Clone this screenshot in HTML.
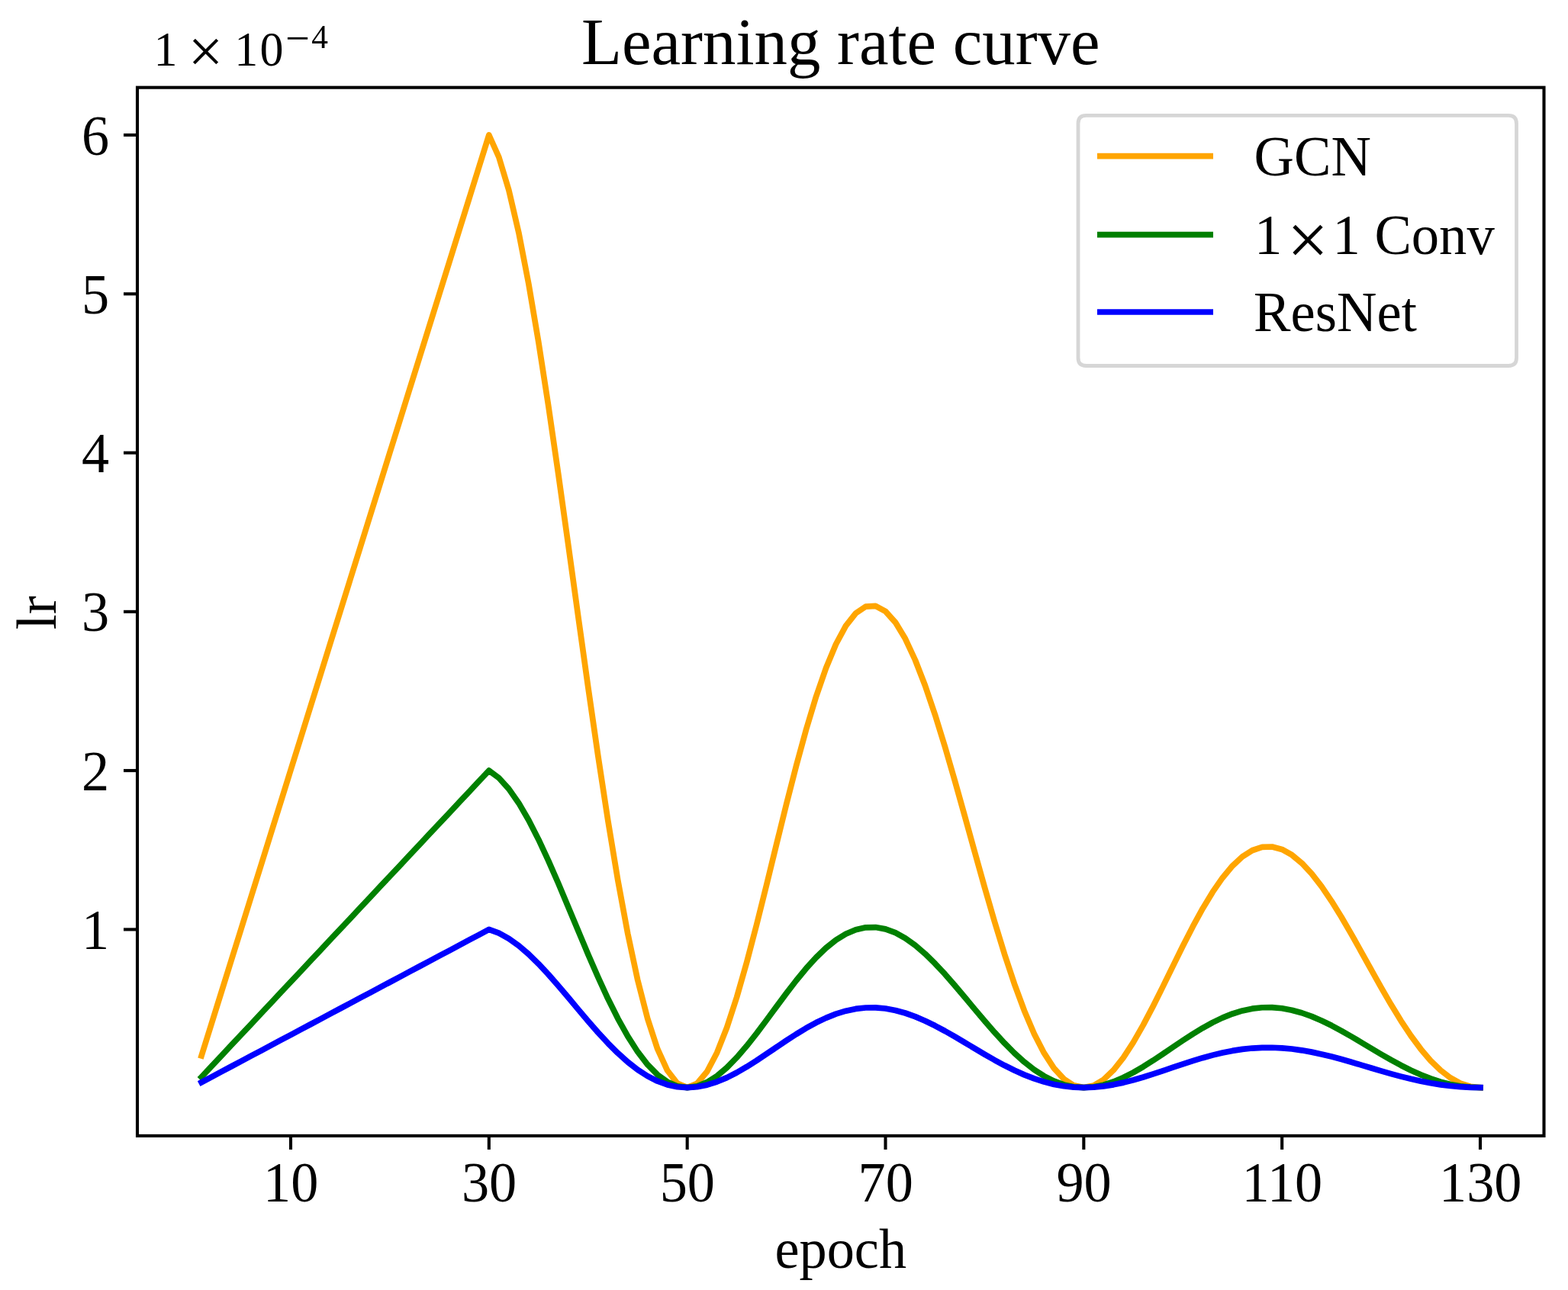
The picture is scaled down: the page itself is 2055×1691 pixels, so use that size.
<!DOCTYPE html>
<html lang="en"><head><meta charset="utf-8"><title>Learning rate curve</title>
<style>
html,body{margin:0;padding:0;background:#fff;}
body{width:2055px;height:1691px;overflow:hidden;}
svg{display:block;}
text{font-family:"Liberation Serif", "DejaVu Serif", serif;fill:#000;}
</style></head><body>
<svg width="2055" height="1691" viewBox="0 0 2055 1691">
<rect x="0" y="0" width="2055" height="1691" fill="#ffffff"/>
<defs><clipPath id="ax"><rect x="180.00" y="114.70" width="1843.50" height="1374.20"/></clipPath></defs>
<g clip-path="url(#ax)" fill="none" stroke-width="7.70" stroke-linecap="square" stroke-linejoin="round">
<path d="M264.07 1384.02 L277.07 1342.40 L290.06 1300.77 L303.05 1259.15 L316.04 1217.53 L329.03 1175.91 L342.02 1134.29 L355.02 1092.67 L368.01 1051.05 L381.00 1009.43 L393.99 967.80 L406.98 926.18 L419.98 884.56 L432.97 842.94 L445.96 801.32 L458.95 759.70 L471.94 718.08 L484.93 676.46 L497.93 634.83 L510.92 593.21 L523.91 551.59 L536.90 509.97 L549.89 468.35 L562.88 426.73 L575.88 385.11 L588.87 343.49 L601.86 301.86 L614.85 260.24 L627.84 218.62 L640.83 177.00 L653.83 206.01 L666.82 249.05 L679.81 304.85 L692.80 371.87 L705.79 448.31 L718.78 532.24 L731.78 621.58 L744.77 714.19 L757.76 807.91 L770.75 900.65 L783.74 990.39 L796.73 1075.24 L809.73 1153.51 L822.72 1223.72 L835.71 1284.64 L848.70 1335.28 L861.69 1374.95 L874.68 1403.27 L887.67 1420.11 L900.67 1425.64 L913.66 1420.30 L926.65 1404.77 L939.64 1379.96 L952.63 1346.97 L965.62 1307.07 L978.62 1261.63 L991.61 1212.13 L1004.60 1160.08 L1017.59 1107.01 L1030.58 1054.42 L1043.58 1003.72 L1056.57 956.25 L1069.56 913.23 L1082.55 875.69 L1095.54 844.52 L1108.53 820.41 L1121.53 803.84 L1134.52 795.12 L1147.51 794.32 L1160.50 801.32 L1173.49 815.82 L1186.48 837.34 L1199.47 865.25 L1212.47 898.75 L1225.46 936.98 L1238.45 978.94 L1251.44 1023.61 L1264.43 1069.91 L1277.43 1116.78 L1290.42 1163.14 L1303.41 1208.01 L1316.40 1250.44 L1329.39 1289.57 L1342.38 1324.68 L1355.38 1355.14 L1368.37 1380.46 L1381.36 1400.30 L1394.35 1414.45 L1407.34 1422.87 L1420.33 1425.64 L1433.33 1422.97 L1446.32 1415.20 L1459.31 1402.80 L1472.30 1386.31 L1485.29 1366.35 L1498.28 1343.64 L1511.28 1318.89 L1524.27 1292.86 L1537.26 1266.33 L1550.25 1240.03 L1563.24 1214.68 L1576.23 1190.95 L1589.23 1169.43 L1602.22 1150.66 L1615.21 1135.08 L1628.20 1123.02 L1641.19 1114.74 L1654.18 1110.38 L1667.17 1109.98 L1680.17 1113.48 L1693.16 1120.73 L1706.15 1131.49 L1719.14 1145.44 L1732.13 1162.20 L1745.12 1181.31 L1758.12 1202.29 L1771.11 1224.62 L1784.10 1247.78 L1797.09 1271.21 L1810.08 1294.39 L1823.08 1316.83 L1836.07 1338.04 L1849.06 1357.61 L1862.05 1375.16 L1875.04 1390.39 L1888.03 1403.05 L1901.03 1412.97 L1914.02 1420.05 L1927.01 1424.26 L1940.00 1425.64" stroke="#ffa500"/>
<path d="M264.07 1411.79 L277.07 1397.94 L290.06 1384.09 L303.05 1370.24 L316.04 1356.39 L329.03 1342.53 L342.02 1328.68 L355.02 1314.83 L368.01 1300.98 L381.00 1287.13 L393.99 1273.28 L406.98 1259.43 L419.98 1245.58 L432.97 1231.73 L445.96 1217.88 L458.95 1204.03 L471.94 1190.18 L484.93 1176.33 L497.93 1162.48 L510.92 1148.63 L523.91 1134.78 L536.90 1120.92 L549.89 1107.07 L562.88 1093.22 L575.88 1079.37 L588.87 1065.52 L601.86 1051.67 L614.85 1037.82 L627.84 1023.97 L640.83 1010.12 L653.83 1019.77 L666.82 1034.10 L679.81 1052.67 L692.80 1074.97 L705.79 1100.41 L718.78 1128.34 L731.78 1158.07 L744.77 1188.88 L757.76 1220.07 L770.75 1250.93 L783.74 1280.80 L796.73 1309.03 L809.73 1335.08 L822.72 1358.45 L835.71 1378.72 L848.70 1395.57 L861.69 1408.77 L874.68 1418.19 L887.67 1423.80 L900.67 1425.64 L913.66 1423.86 L926.65 1418.69 L939.64 1410.44 L952.63 1399.46 L965.62 1386.18 L978.62 1371.06 L991.61 1354.59 L1004.60 1337.27 L1017.59 1319.61 L1030.58 1302.10 L1043.58 1285.23 L1056.57 1269.44 L1069.56 1255.12 L1082.55 1242.63 L1095.54 1232.25 L1108.53 1224.23 L1121.53 1218.72 L1134.52 1215.82 L1147.51 1215.55 L1160.50 1217.88 L1173.49 1222.71 L1186.48 1229.87 L1199.47 1239.15 L1212.47 1250.30 L1225.46 1263.02 L1238.45 1276.99 L1251.44 1291.85 L1264.43 1307.26 L1277.43 1322.86 L1290.42 1338.29 L1303.41 1353.22 L1316.40 1367.34 L1329.39 1380.36 L1342.38 1392.04 L1355.38 1402.18 L1368.37 1410.60 L1381.36 1417.21 L1394.35 1421.92 L1407.34 1424.72 L1420.33 1425.64 L1433.33 1424.75 L1446.32 1422.17 L1459.31 1418.04 L1472.30 1412.55 L1485.29 1405.91 L1498.28 1398.35 L1511.28 1390.11 L1524.27 1381.45 L1537.26 1372.62 L1550.25 1363.87 L1563.24 1355.44 L1576.23 1347.54 L1589.23 1340.38 L1602.22 1334.13 L1615.21 1328.95 L1628.20 1324.93 L1641.19 1322.18 L1654.18 1320.73 L1667.17 1320.59 L1680.17 1321.76 L1693.16 1324.17 L1706.15 1327.75 L1719.14 1332.40 L1732.13 1337.97 L1745.12 1344.33 L1758.12 1351.31 L1771.11 1358.75 L1784.10 1366.45 L1797.09 1374.25 L1810.08 1381.96 L1823.08 1389.43 L1836.07 1396.49 L1849.06 1403.00 L1862.05 1408.84 L1875.04 1413.91 L1888.03 1418.12 L1901.03 1421.42 L1914.02 1423.78 L1927.01 1425.18 L1940.00 1425.64" stroke="#008000"/>
<path d="M264.07 1418.73 L277.07 1411.82 L290.06 1404.91 L303.05 1398.01 L316.04 1391.10 L329.03 1384.19 L342.02 1377.28 L355.02 1370.37 L368.01 1363.47 L381.00 1356.56 L393.99 1349.65 L406.98 1342.74 L419.98 1335.84 L432.97 1328.93 L445.96 1322.02 L458.95 1315.11 L471.94 1308.20 L484.93 1301.30 L497.93 1294.39 L510.92 1287.48 L523.91 1280.57 L536.90 1273.66 L549.89 1266.76 L562.88 1259.85 L575.88 1252.94 L588.87 1246.03 L601.86 1239.12 L614.85 1232.22 L627.84 1225.31 L640.83 1218.40 L653.83 1223.21 L666.82 1230.36 L679.81 1239.62 L692.80 1250.74 L705.79 1263.43 L718.78 1277.36 L731.78 1292.19 L744.77 1307.56 L757.76 1323.11 L770.75 1338.51 L783.74 1353.40 L796.73 1367.48 L809.73 1380.47 L822.72 1392.13 L835.71 1402.24 L848.70 1410.64 L861.69 1417.23 L874.68 1421.93 L887.67 1424.72 L900.67 1425.64 L913.66 1424.75 L926.65 1422.17 L939.64 1418.06 L952.63 1412.58 L965.62 1405.96 L978.62 1398.42 L991.61 1390.20 L1004.60 1381.56 L1017.59 1372.76 L1030.58 1364.03 L1043.58 1355.61 L1056.57 1347.73 L1069.56 1340.59 L1082.55 1334.36 L1095.54 1329.19 L1108.53 1325.19 L1121.53 1322.44 L1134.52 1320.99 L1147.51 1320.86 L1160.50 1322.02 L1173.49 1324.43 L1186.48 1328.00 L1199.47 1332.63 L1212.47 1338.19 L1225.46 1344.53 L1238.45 1351.50 L1251.44 1358.91 L1264.43 1366.60 L1277.43 1374.38 L1290.42 1382.07 L1303.41 1389.52 L1316.40 1396.56 L1329.39 1403.06 L1342.38 1408.88 L1355.38 1413.94 L1368.37 1418.14 L1381.36 1421.43 L1394.35 1423.78 L1407.34 1425.18 L1420.33 1425.64 L1433.33 1425.20 L1446.32 1423.91 L1459.31 1421.85 L1472.30 1419.11 L1485.29 1415.80 L1498.28 1412.03 L1511.28 1407.92 L1524.27 1403.60 L1537.26 1399.20 L1550.25 1394.83 L1563.24 1390.63 L1576.23 1386.69 L1589.23 1383.12 L1602.22 1380.00 L1615.21 1377.41 L1628.20 1375.41 L1641.19 1374.04 L1654.18 1373.31 L1667.17 1373.25 L1680.17 1373.83 L1693.16 1375.03 L1706.15 1376.82 L1719.14 1379.13 L1732.13 1381.91 L1745.12 1385.09 L1758.12 1388.57 L1771.11 1392.28 L1784.10 1396.12 L1797.09 1400.01 L1810.08 1403.86 L1823.08 1407.58 L1836.07 1411.10 L1849.06 1414.35 L1862.05 1417.26 L1875.04 1419.79 L1888.03 1421.89 L1901.03 1423.54 L1914.02 1424.71 L1927.01 1425.41 L1940.00 1425.64" stroke="#0000ff"/>
</g>
<g stroke="#000" stroke-width="4.10" fill="none">
<line x1="381.00" y1="1488.90" x2="381.00" y2="1506.90"/>
<line x1="640.83" y1="1488.90" x2="640.83" y2="1506.90"/>
<line x1="900.67" y1="1488.90" x2="900.67" y2="1506.90"/>
<line x1="1160.50" y1="1488.90" x2="1160.50" y2="1506.90"/>
<line x1="1420.33" y1="1488.90" x2="1420.33" y2="1506.90"/>
<line x1="1680.17" y1="1488.90" x2="1680.17" y2="1506.90"/>
<line x1="1940.00" y1="1488.90" x2="1940.00" y2="1506.90"/>
<line x1="162.00" y1="1218.40" x2="180.00" y2="1218.40"/>
<line x1="162.00" y1="1010.12" x2="180.00" y2="1010.12"/>
<line x1="162.00" y1="801.84" x2="180.00" y2="801.84"/>
<line x1="162.00" y1="593.56" x2="180.00" y2="593.56"/>
<line x1="162.00" y1="385.28" x2="180.00" y2="385.28"/>
<line x1="162.00" y1="177.00" x2="180.00" y2="177.00"/>
</g>
<rect x="180.00" y="114.70" width="1843.50" height="1374.20" fill="none" stroke="#000" stroke-width="4.10" stroke-linejoin="miter"/>
<text transform="translate(381.20 1575.30) scale(1 1.0100)" font-size="72.30" text-anchor="middle">10</text>
<text transform="translate(641.03 1575.30) scale(1 1.0100)" font-size="72.30" text-anchor="middle">30</text>
<text transform="translate(900.87 1575.30) scale(1 1.0100)" font-size="72.30" text-anchor="middle">50</text>
<text transform="translate(1160.70 1575.30) scale(1 1.0100)" font-size="72.30" text-anchor="middle">70</text>
<text transform="translate(1420.53 1575.30) scale(1 1.0100)" font-size="72.30" text-anchor="middle">90</text>
<text transform="translate(1680.37 1575.30) scale(1 1.0100)" font-size="72.30" text-anchor="middle">110</text>
<text transform="translate(1940.20 1575.30) scale(1 1.0100)" font-size="72.30" text-anchor="middle">130</text>
<text transform="translate(143.20 1244.00) scale(1 1.0100)" font-size="72.30" text-anchor="end">1</text>
<text transform="translate(143.20 1035.72) scale(1 1.0100)" font-size="72.30" text-anchor="end">2</text>
<text transform="translate(143.20 827.44) scale(1 1.0100)" font-size="72.30" text-anchor="end">3</text>
<text transform="translate(143.20 619.16) scale(1 1.0100)" font-size="72.30" text-anchor="end">4</text>
<text transform="translate(143.20 410.88) scale(1 1.0100)" font-size="72.30" text-anchor="end">5</text>
<text transform="translate(143.20 202.60) scale(1 1.0100)" font-size="72.30" text-anchor="end">6</text>
<text transform="translate(1101.75 83.90) scale(1 1.0100)" font-size="86.80" text-anchor="middle">Learning rate curve</text>
<text transform="translate(1101.75 1662.40) scale(1 1.0100)" font-size="72.30" text-anchor="middle">epoch</text>
<text transform="translate(73.10 803.30) rotate(-90) scale(1 1.0100)" font-size="72.30" text-anchor="middle">lr</text>
<text transform="scale(1 1.0100)"><tspan x="201.54" y="84.85" font-size="62.00">1 </tspan><tspan x="246.62" y="94.52" font-size="81.50">× </tspan><tspan x="307.14" y="84.85" font-size="62.00">1</tspan><tspan x="340.50" y="84.85" font-size="62.00">0</tspan><tspan x="374.07" y="68.46" font-size="56.50">−</tspan><tspan x="408.27" y="62.08" font-size="43.40">4</tspan></text>
<path d="M1423.50 151.40 L1977.00 151.40 Q1987.50 151.40 1987.50 161.90 L1987.50 469.00 Q1987.50 479.50 1977.00 479.50 L1423.50 479.50 Q1413.00 479.50 1413.00 469.00 L1413.00 161.90 Q1413.00 151.40 1423.50 151.40 Z" fill="#ffffff" fill-opacity="0.8" stroke="#cccccc" stroke-opacity="0.8" stroke-width="4.8"/>
<line x1="1438" y1="204.60" x2="1590" y2="204.60" stroke="#ffa500" stroke-width="7.70"/>
<line x1="1438" y1="307.60" x2="1590" y2="307.60" stroke="#008000" stroke-width="7.70"/>
<line x1="1438" y1="409.00" x2="1590" y2="409.00" stroke="#0000ff" stroke-width="7.70"/>
<text transform="translate(1643.62 230.10) scale(1 1.0100)" font-size="72.60" text-anchor="start">GCN</text>
<text transform="scale(1 1.0100)"><tspan x="1644.04" y="329.70" font-size="72.60">1</tspan><tspan x="1686.79" y="343.57" font-size="96.50">×</tspan><tspan x="1746.59" y="329.70" font-size="72.60">1 </tspan><tspan x="1801.42" y="329.70" font-size="72.60">Conv</tspan></text>
<text transform="translate(1643.11 434.40) scale(1 1.0100)" font-size="72.60" text-anchor="start">ResNet</text>
</svg>
</body></html>
